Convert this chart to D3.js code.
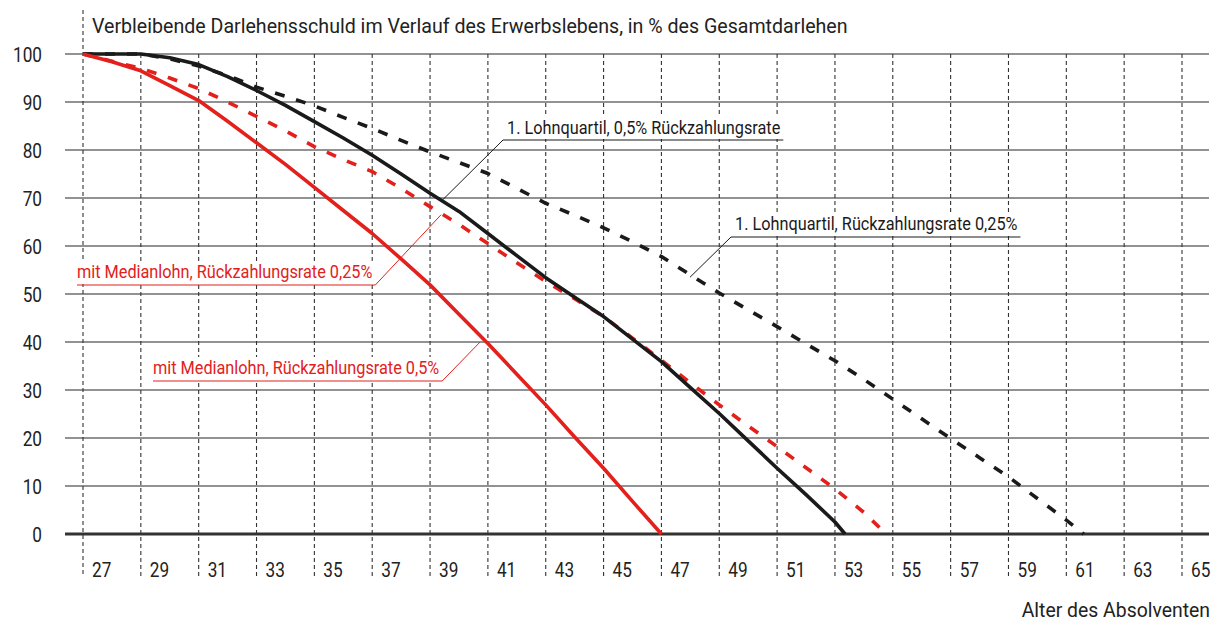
<!DOCTYPE html>
<html>
<head>
<meta charset="utf-8">
<script src="https://cdn.jsdelivr.net/npm/d3@7"></script>
<style>
  body { margin: 0; background: #fff; }
  svg { display: block; }
</style>
</head>
<body>
<div id="chart-area"></div>
<script>
// Verbleibende Darlehensschuld - 4 Szenarien
const MARGIN = {LEFT: 83, RIGHT: 35, TOP: 54, BOTTOM: 87}
const WIDTH = 1217 - MARGIN.LEFT - MARGIN.RIGHT
const HEIGHT = 621 - MARGIN.TOP - MARGIN.BOTTOM
const FONT = "Roboto, 'DejaVu Sans', sans-serif"
const RED = "#e3201b"
const DARK = "#1a1a1a"

// data
const AGE_TICKS = [27, 29, 31, 33, 35, 37, 39, 41, 43, 45, 47, 49, 51, 53, 55, 57, 59, 61, 63, 65]
const PCT_TICKS = [0, 10, 20, 30, 40, 50, 60, 70, 80, 90, 100]

const AGES_Q1_025 = [27, 28, 29, 30, 31, 32, 33, 34, 35, 36, 37, 38, 39, 40, 41, 42, 43, 44, 45, 46, 47, 48, 49, 50, 51, 52, 53, 54, 55, 56, 57, 58, 59, 60, 61, 61.6]
const DEBT_Q1_025 = [100, 100, 100, 99, 97.5, 95.5, 93.1, 91.2, 89.2, 86.8, 84.5, 82, 79.6, 77.4, 75.1, 72, 68.9, 66.4, 63.8, 60.9, 57.8, 54, 50.2, 46.7, 43.2, 39.6, 36.1, 32.2, 28.1, 24, 19.9, 15.9, 11.9, 7.4, 2.9, 0]

const AGES_Q1_05 = [27, 28, 29, 30, 31, 32, 33, 34, 35, 36, 37, 38, 39, 40, 41, 42, 43, 44, 45, 46, 47, 48, 49, 50, 51, 52, 53, 53.35]
const DEBT_Q1_05 = [100, 100, 100, 99.2, 97.8, 95.3, 92.4, 89.3, 85.9, 82.5, 78.9, 75, 71, 67.2, 62.6, 58, 53.4, 49.3, 45.3, 40.6, 35.9, 30.5, 25.1, 19.4, 13.7, 8.2, 2.5, 0]

const AGES_MED_025 = [27, 28, 29, 30, 31, 32, 33, 34, 35, 36, 37, 38, 39, 40, 41, 42, 43, 44, 45, 46, 47, 48, 49, 50, 51, 52, 53, 54, 54.77]
const DEBT_MED_025 = [100, 98.5, 97, 95, 92.8, 90, 87, 84, 80.7, 78, 75.5, 72, 68.2, 64.5, 60.5, 56.5, 52.6, 49, 45.3, 40.8, 36.2, 31.5, 26.9, 22.5, 18.2, 13.8, 9.4, 4.5, 0]

const AGES_MED_05 = [27, 28, 29, 30, 31, 32, 33, 34, 35, 36, 37, 38, 39, 40, 41, 42, 43, 44, 45, 46, 47]
const DEBT_MED_05 = [100, 98.4, 96.5, 93.4, 90.3, 86, 81.5, 77, 72.2, 67.4, 62.6, 57.3, 51.9, 45.8, 39.7, 33.3, 26.9, 20.2, 13.7, 6.8, 0]

const svg = d3.select("#chart-area").append("svg")
    .attr("width", 1217)
    .attr("height", 621)
    .style("font-family", FONT)

const g = svg.append("g")
    .attr("transform", `translate(${MARGIN.LEFT}, ${MARGIN.TOP})`)

const x = d3.scaleLinear()
    .domain([27, 65])
    .range([0, WIDTH])

const y = d3.scaleLinear()
    .domain([0, 100])
    .range([HEIGHT, 0])

// text squeezed horizontally around its anchor point (fake condensed face)
function label(parent, tx, ty, str, size, squeeze, color, anchor) {
    return parent.append("text")
        .attr("transform", `translate(${tx}, ${ty}) scale(${squeeze}, 1)`)
        .attr("text-anchor", anchor || "start")
        .attr("font-size", size)
        .attr("fill", color || "#222")
        .text(str)
}

// horizontal grid + y labels
g.selectAll(".hgrid")
    .data(PCT_TICKS)
    .enter().append("line")
    .attr("class", "hgrid")
    .attr("x1", -18)
    .attr("x2", WIDTH + 27)
    .attr("y1", d => y(d))
    .attr("y2", d => y(d))
    .attr("stroke", d => d === 0 ? "#333" : "#6e6e6e")
    .attr("stroke-width", d => d === 0 ? 3.2 : 1.4)

PCT_TICKS.forEach(d => {
    label(g, -41, y(d) + 7.5, d, "21px", 0.82, "#222", "end")
})

// vertical dashed grid + x labels
g.selectAll(".vgrid")
    .data(AGE_TICKS)
    .enter().append("line")
    .attr("class", "vgrid")
    .attr("x1", d => x(d))
    .attr("x2", d => x(d))
    .attr("y1", (d, i) => i === 0 ? -44 : 0)
    .attr("y2", HEIGHT + 43)
    .attr("stroke", "#333")
    .attr("stroke-width", 1.1)
    .attr("stroke-dasharray", "4,3")

AGE_TICKS.forEach(d => {
    label(g, x(d) + 9, HEIGHT + 43, d, "21px", 0.82)
})

// title + axis label
label(svg, 92, 33, "Verbleibende Darlehensschuld im Verlauf des Erwerbslebens, in % des Gesamtdarlehen", "20px", 0.98)
label(svg, 1210, 617, "Alter des Absolventen", "20px", 0.97, "#222", "end")

// series
const line = d3.line()
    .x(d => x(d[0]))
    .y(d => y(d[1]))

const series = [
    {ages: AGES_Q1_025, debt: DEBT_Q1_025, color: DARK, dash: "10,12"},
    {ages: AGES_MED_025, debt: DEBT_MED_025, color: RED, dash: "10,12"},
    {ages: AGES_Q1_05, debt: DEBT_Q1_05, color: DARK, dash: null},
    {ages: AGES_MED_05, debt: DEBT_MED_05, color: RED, dash: null}
]

series.forEach(s => {
    g.append("path")
        .datum(s.ages.map((a, i) => [a, s.debt[i]]))
        .attr("fill", "none")
        .attr("stroke", s.color)
        .attr("stroke-width", 3.6)
        .attr("stroke-dasharray", s.dash)
        .attr("stroke-linejoin", "round")
        .attr("d", line)
})

// annotations (label position in px, leader anchored on the series)
const NOTE_SQUEEZE = 0.88
const notes = [
    {text: "1. Lohnquartil, 0,5% Rückzahlungsrate", color: DARK, tx: 507, ty: 134, ly: 140, side: "left", age: 39.45, value: 69.7},
    {text: "1. Lohnquartil, Rückzahlungsrate 0,25%", color: DARK, tx: 735, ty: 230, ly: 237, side: "left", age: 47.99, value: 53.5},
    {text: "mit Medianlohn, Rückzahlungsrate 0,25%", color: RED, tx: 77, ty: 278, ly: 285, side: "right", age: 39.38, value: 66.5},
    {text: "mit Medianlohn, Rückzahlungsrate 0,5%", color: RED, tx: 153, ty: 374, ly: 381, side: "right", age: 40.73, value: 40}
]

notes.forEach(n => {
    const bg = svg.append("rect").attr("fill", "#fff")
    const t = label(svg, n.tx, n.ty, n.text, "18.5px", NOTE_SQUEEZE, n.color)
    const len = t.node().getComputedTextLength() * NOTE_SQUEEZE
    const x0 = n.side === "left" ? n.tx - 4 : n.tx
    const x1 = n.tx + len + 3
    bg.attr("x", x0).attr("y", n.ty - 17).attr("width", x1 - x0).attr("height", n.ly - n.ty + 16)
    const lx = n.side === "left" ? x0 : x1
    svg.append("path")
        .attr("fill", "none")
        .attr("stroke", n.color)
        .attr("stroke-width", 1)
        .attr("d", `M${x1},${n.ly}H${x0}M${lx},${n.ly}L${MARGIN.LEFT + x(n.age)},${MARGIN.TOP + y(n.value)}`)
})
</script>
</body>
</html>
